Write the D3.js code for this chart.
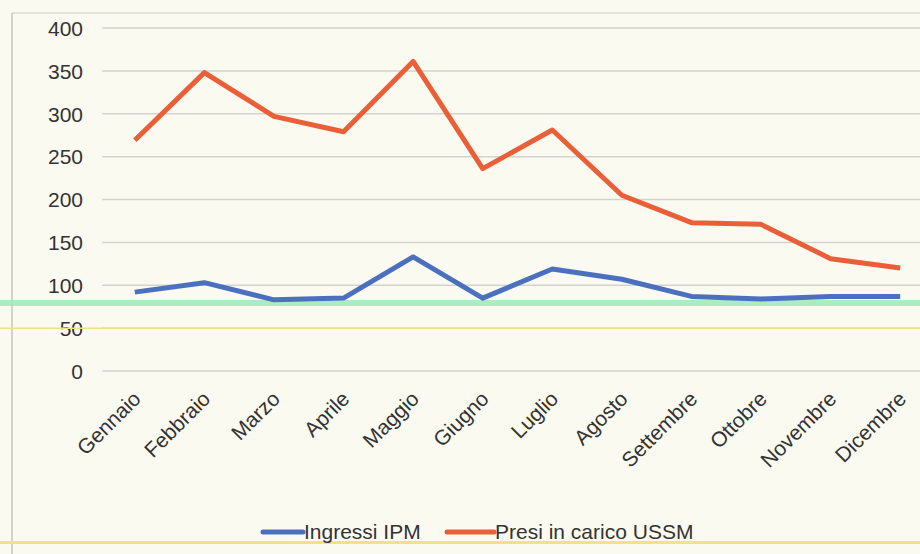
<!DOCTYPE html>
<html>
<head>
<meta charset="utf-8">
<script src="https://cdn.jsdelivr.net/npm/d3@7"></script>
<style>
  body { margin: 0; background: #fbfaf1; }
  svg { display: block; }
  text { font-family: "Liberation Sans", Arial, sans-serif; fill: #333; }
</style>
</head>
<body>
<svg id="chart"></svg>
<script>
var width = 920;
var height = 554;

// months on the x axis
var months = ["Gennaio", "Febbraio", "Marzo", "Aprile", "Maggio", "Giugno", "Luglio",
    "Agosto", "Settembre", "Ottobre", "Novembre", "Dicembre"];

// series values
var ingressiIPM = [92, 103, 83, 85, 133, 85, 119, 107, 87, 84, 87, 87];
var presiUSSM = [269, 348, 297, 279, 361, 236, 281, 205, 173, 171, 131, 120];

var yTicks = [0, 50, 100, 150, 200, 250, 300, 350, 400];

var seriesNames = ["Ingressi IPM", "Presi in carico USSM"];
var colors = ["#4b70bf", "#ea5f37"];

var fontSize = "21px";

var svg = d3.select("#chart")
    .attr("width", width)
    .attr("height", height);

// plot area runs off the right edge of the scan
var x = d3.scaleBand()
    .domain(months)
    .range([100, 935]);

var y = d3.scaleLinear()
    .domain([0, 400])
    .range([371, 28]);

// frame of the scanned chart
svg.append("line")
    .attr("x1", 12).attr("x2", width)
    .attr("y1", 13).attr("y2", 13)
    .style("stroke", "#c9c9c4").style("stroke-width", 1.2);
svg.append("line")
    .attr("x1", 12).attr("x2", 12)
    .attr("y1", 13).attr("y2", height)
    .style("stroke", "#b9b9b3").style("stroke-width", 1.2);

// gridlines
svg.append("g")
    .selectAll("line")
    .data(yTicks)
    .enter()
    .append("line")
    .attr("x1", 102)
    .attr("x2", width)
    .attr("y1", function(d) { return y(d); })
    .attr("y2", function(d) { return y(d); })
    .style("stroke", "#d3d3cf")
    .style("stroke-width", 1.5);

// y axis labels
var yAxis = d3.axisLeft(y).tickValues(yTicks).tickSize(0).tickPadding(0);
svg.append("g")
    .attr("transform", "translate(83,0)")
    .call(yAxis)
    .call(function(g) { g.select(".domain").remove(); })
    .selectAll("text")
    .attr("dy", "0.35em")
    .style("font-size", fontSize)
    .style("font-family", "'Liberation Sans', Arial, sans-serif")
    .style("fill", "#333");

// x axis labels rotated
var xAxis = d3.axisBottom(x).tickSize(0).tickPadding(0);
svg.append("g")
    .attr("transform", "translate(0,388)")
    .call(xAxis)
    .call(function(g) { g.select(".domain").remove(); })
    .selectAll("text")
    .attr("y", 0)
    .attr("dy", "0.35em")
    .attr("text-anchor", "end")
    .attr("transform", "translate(2,7) rotate(-45)")
    .style("font-size", fontSize)
    .style("font-family", "'Liberation Sans', Arial, sans-serif")
    .style("fill", "#333");

// highlighter marks from the scan
svg.append("rect")
    .attr("x", 0).attr("y", 300)
    .attr("width", width).attr("height", 6)
    .style("fill", "#9fe9bb").style("opacity", 0.85);
svg.append("line")
    .attr("x1", 0).attr("x2", width)
    .attr("y1", y(50)).attr("y2", y(50))
    .style("stroke", "#efe08a").style("stroke-width", 1.5);
svg.append("rect")
    .attr("x", 0).attr("y", 541)
    .attr("width", width).attr("height", 3)
    .style("fill", "#f2e47a");

// series lines
var line = d3.line()
    .x(function(d, i) { return x(months[i]) + x.bandwidth() / 2; })
    .y(function(d) { return y(d); });

[ingressiIPM, presiUSSM].forEach(function(s, i) {
    svg.append("path")
        .datum(s)
        .attr("d", line)
        .style("fill", "none")
        .style("stroke", colors[i])
        .style("stroke-width", 5)
        .style("stroke-linejoin", "round");
});

// legend
var legendX = [263, 447];
var legend = svg.append("g")
    .selectAll("g")
    .data(seriesNames)
    .enter()
    .append("g")
    .attr("transform", function(d, i) { return "translate(" + legendX[i] + ",532)"; });

legend.append("line")
    .attr("x1", 0).attr("x2", function(d, i) { return i ? 47 : 40; })
    .attr("y1", 0).attr("y2", 0)
    .style("stroke", function(d, i) { return colors[i]; })
    .style("stroke-width", 5)
    .style("stroke-linecap", "round");

legend.append("text")
    .attr("x", function(d, i) { return i ? 48 : 41; })
    .attr("y", 0)
    .attr("dy", "0.35em")
    .style("font-size", fontSize)
    .text(function(d) { return d; });
</script>
</body>
</html>
